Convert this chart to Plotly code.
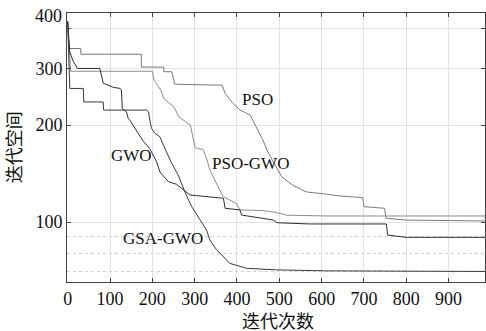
import math
import plotly.graph_objects as go

# ---- data (iterations, fitness) ----
pso_x = [0, 3, 31, 31, 174, 174, 227, 227, 246, 253, 365, 372, 390, 407, 431, 449, 461, 473, 497, 506, 532, 564, 612, 643, 697, 700, 749, 752, 800, 990]
pso_y = [420, 346, 346, 332, 332, 303, 303, 293, 293, 268, 266, 251, 234, 223, 215, 193, 180, 165, 145, 138, 130, 124, 122, 120.5, 119, 111.6, 110.3, 102.7, 101.4, 100.7]

psogwo_x = [0, 4, 7, 200, 204, 220, 227, 251, 263, 290, 297, 301, 320, 328, 336, 352, 367, 399, 407, 461, 494, 517, 612, 990]
psogwo_y = [420, 320, 294, 294, 276, 257, 242, 228, 212, 200, 180, 170, 168, 158, 145, 132, 120, 114, 109, 108.5, 107, 105, 104.4, 104.4]

gwo_x = [0, 5, 12, 23, 76, 80, 84, 108, 124, 127, 129, 139, 143, 147, 163, 179, 194, 210, 218, 238, 257, 281, 289, 368, 372, 407, 411, 486, 494, 572, 753, 756, 800, 990]
gwo_y = [420, 338, 318, 300, 300, 283, 270, 262, 260, 257, 225, 220, 210, 207, 191, 178, 169, 154, 143, 133.5, 131, 124, 121.3, 118.5, 110.3, 109, 105.1, 101.4, 99.5, 98.6, 98.6, 91.1, 89.6, 89.6]

gsagwo_x = [0, 5, 37, 38, 84, 85, 187, 191, 194, 198, 206, 218, 226, 238, 246, 261, 277, 293, 312, 328, 336, 352, 360, 376, 383, 423, 494, 612, 990]
gsagwo_y = [420, 260, 260, 236, 236, 222.7, 222.7, 220, 207.5, 195.5, 188.5, 184, 173.5, 159.5, 152, 140, 124, 111.6, 101.4, 94.4, 87.9, 81.9, 80, 76.2, 74.4, 71.8, 71.0, 70.5, 70.2]

x_ticks = [0, 100, 200, 300, 400, 500, 600, 700, 800, 900]
y_ticks = [100, 200, 300, 400]
y_minor = [70, 80, 90]

# label positions (data coords)
labels = ["PSO", "PSO-GWO", "GWO", "GSA-GWO"]
label_x = [449, 432, 150, 226]
label_y = [239.5, 152, 161, 89.0]

x_title = "迭代次数"
y_title = "迭代空间"

FONT = "Liberation Serif, Noto Sans CJK SC, serif"

fig = go.Figure()
series = [
    (pso_x, pso_y, "#7a7a7a", "PSO"),
    (psogwo_x, psogwo_y, "#8c8c8c", "PSO-GWO"),
    (gwo_x, gwo_y, "#2e2e2e", "GWO"),
    (gsagwo_x, gsagwo_y, "#3a3a3a", "GSA-GWO"),
]
for xs, ys, c, n in series:
    fig.add_trace(go.Scatter(x=xs, y=ys, mode="lines", name=n,
                             line=dict(color=c, width=1), hoverinfo="skip"))

for t, lx, ly in zip(labels, label_x, label_y):
    fig.add_annotation(x=lx, y=math.log10(ly), xref="x", yref="y", text=t,
                       showarrow=False, font=dict(family=FONT, size=17, color="#111"))

# top tick label "400" sits at the top edge of the axes
fig.add_annotation(x=0, xref="paper", y=0.99, yref="paper", text="400",
                   showarrow=False, xanchor="right", yanchor="middle", xshift=-3,
                   font=dict(family=FONT, size=18, color="#111"))

# axis titles
fig.add_annotation(x=0.505, xref="paper", y=-0.149, yref="paper", text=x_title,
                   showarrow=False, xanchor="center", yanchor="middle",
                   font=dict(family=FONT, size=18, color="#111"))
fig.add_annotation(x=-0.125, xref="paper", y=0.5, yref="paper", text=y_title,
                   showarrow=False, xanchor="center", yanchor="middle", textangle=-90,
                   font=dict(family=FONT, size=18, color="#111"))

fig.update_layout(
    width=486, height=331,
    margin=dict(l=67, r=1, t=13, b=49, autoexpand=False),
    plot_bgcolor="white", paper_bgcolor="white",
    showlegend=False,
    font=dict(family=FONT, size=17, color="#111"),
)
fig.update_xaxes(
    range=[-1.6, 986], tickvals=x_ticks, automargin=False,
    showgrid=True, gridcolor="#e2e2e2", gridwidth=1,
    showline=True, linecolor="#444", linewidth=1, mirror="ticks",
    ticks="inside", ticklen=4, tickcolor="#444", zeroline=False,
    tickfont=dict(family=FONT, size=18, color="#111"),
)
fig.update_yaxes(
    type="log", range=[math.log10(65.1), math.log10(446)], automargin=False,
    tickvals=y_ticks, ticktext=["100", "200", "300", ""],
    showgrid=True, gridcolor="#e2e2e2", gridwidth=1,
    showline=True, linecolor="#444", linewidth=1, mirror="ticks",
    ticks="inside", ticklen=4, tickcolor="#444", zeroline=False,
    tickfont=dict(family=FONT, size=18, color="#111"),
    minor=dict(tickvals=y_minor, showgrid=True, griddash="dot", gridcolor="#d0d0d0", ticks=""),
)

fig.write_html(
    "out.html",
    config={"displayModeBar": False},
    post_script="document.body.style.margin='0px';document.body.style.overflow='hidden';",
)
